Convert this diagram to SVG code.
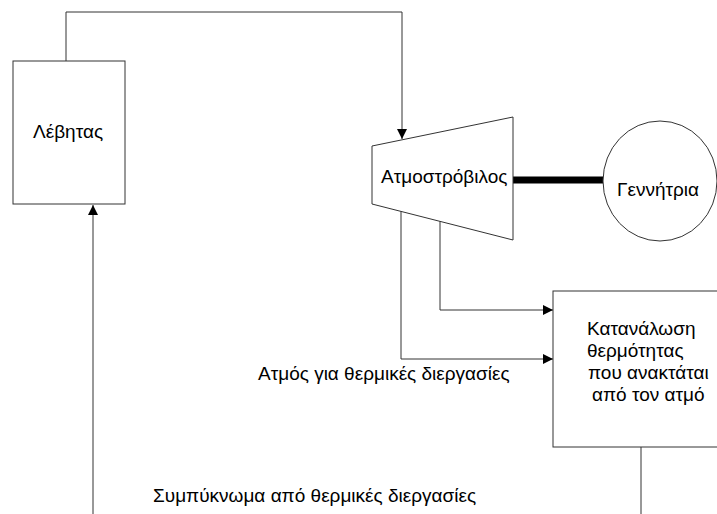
<svg xmlns="http://www.w3.org/2000/svg" width="717" height="514" viewBox="0 0 717 514">
<style>
.shape{fill:#ffffff;stroke:#333333;stroke-width:1}
.ln{fill:none;stroke:#333333;stroke-width:1}
.thick{fill:none;stroke:#000000;stroke-width:7}
text{font-family:"Liberation Sans",Arial,sans-serif;font-size:19px;fill:#000000}
</style>
<defs>
<marker id="arr" viewBox="0 0 10 10" refX="10" refY="5" markerWidth="10" markerHeight="10" markerUnits="userSpaceOnUse" orient="auto">
<path d="M0,0 L10,5 L0,10 Z" fill="#000000"/>
</marker>
</defs>
<rect width="717" height="514" fill="#ffffff"/>
<g id="connectors">
<path class="ln" d="M66,61 V12 H402 V139" marker-end="url(#arr)"/>
<path class="ln" d="M93,514 V205" marker-end="url(#arr)"/>
<path class="ln" d="M440,221 V310 H553" marker-end="url(#arr)"/>
<path class="ln" d="M401,211 V359 H553" marker-end="url(#arr)"/>
<path class="ln" d="M641,447 V514"/>
<path class="thick" d="M513,180 H603"/>
</g>
<g id="boiler">
<rect class="shape" x="13" y="61" width="112" height="143"/>
<text x="33" y="138">Λέβητας</text>
</g>
<g id="turbine">
<polygon class="shape" points="372,146 513,117 513,240 372,204"/>
<text x="381" y="183">Ατμοστρόβιλος</text>
</g>
<g id="generator">
<ellipse class="shape" cx="660" cy="181" rx="57" ry="60"/>
<text x="617" y="196">Γεννήτρια</text>
</g>
<g id="consumer">
<rect class="shape" x="553" y="291" width="170" height="156"/>
<text x="587" y="335">Κατανάλωση</text>
<text x="587" y="357">θερμότητας</text>
<text x="588" y="379">που ανακτάται</text>
<text x="592" y="401">από τον ατμό</text>
</g>
<g id="labels">
<text x="258" y="380">Ατμός για θερμικές διεργασίες</text>
<text x="153" y="502">Συμπύκνωμα από θερμικές διεργασίες</text>
</g>
</svg>
